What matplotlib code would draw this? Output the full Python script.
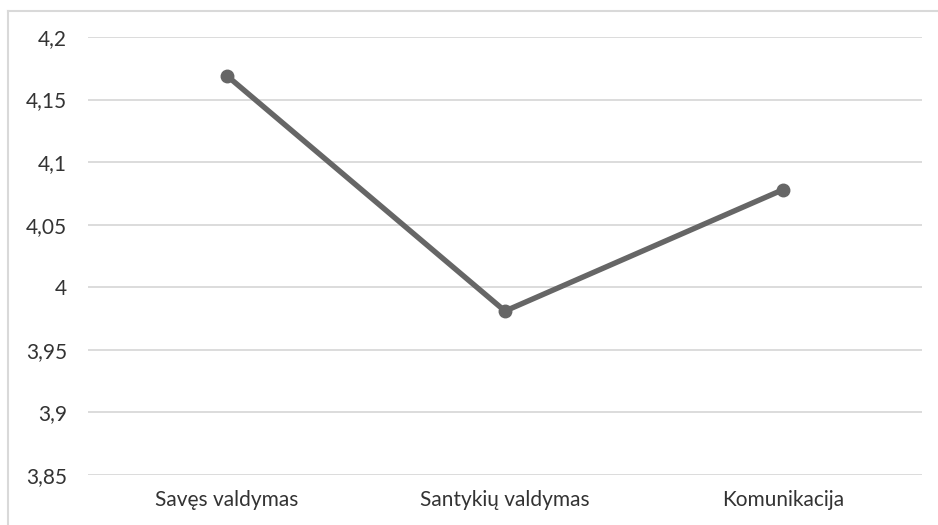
import matplotlib
matplotlib.use("Agg")
import matplotlib.pyplot as plt
from matplotlib.lines import Line2D
from matplotlib.ticker import FuncFormatter

categories = ["Savęs valdymas", "Santykių valdymas", "Komunikacija"]
values = [4.169, 3.981, 4.078]
y_ticks = [3.85, 3.9, 3.95, 4.0, 4.05, 4.1, 4.15, 4.2]

W, H = 938, 525
plt.rcParams["font.family"] = ["Lato", "DejaVu Sans"]

fig = plt.figure(figsize=(W / 100, H / 100), dpi=100)
ax = fig.add_axes([88 / W, 50 / H, (922 - 88) / W, (475 - 37) / H])

x = list(range(len(categories)))
ax.plot(x, values, color="#666666", linewidth=3.9, marker="o",
        markersize=9, solid_capstyle="round", zorder=3)

ax.set_xlim(-0.5, len(categories) - 0.5)
ax.set_ylim(y_ticks[0], y_ticks[-1])
ax.set_yticks(y_ticks)
ax.yaxis.set_major_formatter(
    FuncFormatter(lambda v, _: f"{v:g}".replace(".", ",")))
ax.set_xticks(x)
ax.set_xticklabels(categories)

ax.grid(axis="y", color="#d9d9d9", linewidth=1.3)
ax.set_axisbelow(True)
for s in ax.spines.values():
    s.set_visible(False)
ax.tick_params(axis="both", length=0, labelsize=15, colors="#333333")
ax.tick_params(axis="y", pad=15)
ax.tick_params(axis="x", pad=11)

# Outer chart frame (left and top edges)
fig.lines.append(Line2D([8 / W, 8 / W], [0, 1 - 11 / H], transform=fig.transFigure,
                        color="#d9d9d9", linewidth=1.5))
fig.lines.append(Line2D([8 / W, 1], [1 - 11 / H, 1 - 11 / H], transform=fig.transFigure,
                        color="#d9d9d9", linewidth=1.5))

fig.savefig("out.png", dpi=100)
